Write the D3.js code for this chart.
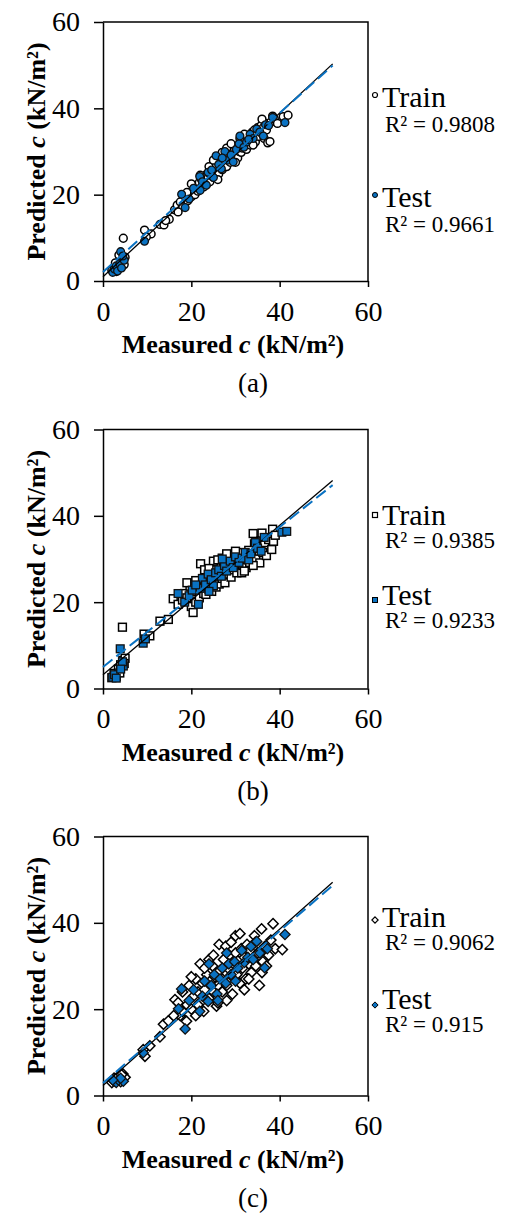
<!DOCTYPE html>
<html><head><meta charset="utf-8">
<script src="https://cdn.jsdelivr.net/npm/d3@7/dist/d3.min.js"></script>
<style>
html,body{margin:0;padding:0;background:#fff;}
svg text{font-family:"Liberation Serif","Times New Roman",serif;fill:#000;}
</style></head>
<body>
<svg id="fig" width="506" height="1214"></svg>
<script>
// ---------- data ----------
const xTicks = [0, 20, 40, 60];
const yTicks = [0, 20, 40, 60];
const panelLabels = ["(a)", "(b)", "(c)"];
const r2Train = ["0.9808", "0.9385", "0.9062"];
const r2Test = ["0.9661", "0.9233", "0.915"];
// trendlines: [intercept, slope]
const trendTrain = [[1.0, 0.948], [3.2, 0.865], [2.3, 0.906]];
const trendTest = [[2.1, 0.92], [5.0, 0.81], [2.9, 0.88]];
const trendRange = [0, 52];

const trainA = [[2.0,2.5],[2.5,3.0],[3.0,2.2],[3.2,3.5],[3.5,4.0],[4.0,3.2],[4.2,5.0],[4.5,4.5],[5.0,5.5],[4.8,3.8],[2.8,4.2],[4.6,9.9],[3.6,6.0],
[9.4,11.8],[10.9,10.9],[9.8,10.2],[12.9,13.1],[13.8,13.0],[15.0,14.3],[14.2,14.0],[16.2,16.5],[16.8,17.6],[17.5,18.3],[18.0,17.2],[18.6,19.5],[19.2,18.6],[19.8,20.4],[20.0,19.5],[20.5,21.2],[20.8,20.0],[21.2,22.0],[21.5,20.8],[21.8,22.8],[22.0,21.5],[22.3,23.5],[22.5,22.0],[22.8,21.8],[23.0,23.2],[23.2,24.5],[23.5,22.5],[23.8,23.8],[24.0,25.0],[24.2,23.0],[24.5,24.5],[24.8,26.0],[25.0,24.0],[25.2,25.5],[25.5,26.8],[25.8,25.0],[26.0,27.5],[26.2,24.8],[26.5,26.5],[26.8,27.8],[27.0,25.8],[27.2,28.5],[27.5,27.0],[27.8,29.0],[28.0,26.5],[28.2,28.0],[28.5,29.5],[28.8,27.5],[29.0,30.2],[29.2,28.8],[29.5,27.8],[29.8,30.5],[30.0,29.0],[30.3,31.2],[30.5,28.5],[30.8,30.0],[31.0,31.8],[31.3,29.8],[31.5,30.8],[31.8,32.5],[32.0,31.0],[32.3,33.2],[32.5,30.5],[32.8,32.0],[33.0,33.8],[33.3,31.5],[33.5,32.8],[33.8,34.5],[34.0,33.0],[34.3,35.0],[34.5,32.2],[34.8,34.0],[35.0,35.5],[35.3,33.5],[35.5,34.8],[35.8,36.0],[36.0,34.2],[36.3,35.5],[36.5,33.0],[36.8,36.5],[37.0,35.0],[37.3,32.0],[37.8,32.3],[38.0,36.8],[38.4,38.2],[38.8,37.5],[39.5,36.5],[40.8,38.1],[41.9,38.4],[24.0,26.5],[26.0,23.5],[28.0,30.8],[30.0,27.5],[32.0,34.0],[34.0,31.5],[36.0,37.5],[22.0,24.5],[20.0,22.5],[19.0,20.5],[17.0,16.0],[25.0,28.0],[27.0,29.8],[29.0,31.8],[31.0,33.0]];
const testA = [[2.2,2.0],[2.6,2.8],[3.0,3.5],[3.3,2.3],[3.8,4.0],[4.0,6.8],[4.2,3.0],[4.8,4.8],[4.5,5.8],[9.4,9.2],[17.8,20.1],[18.6,17.0],[19.5,19.0],[20.5,21.5],[21.9,24.2],[22.5,23.0],[23.4,22.2],[23.8,25.2],[24.6,25.7],[25.0,24.0],[25.6,29.0],[26.2,27.0],[26.8,26.0],[27.6,30.0],[28.3,28.0],[29.0,29.2],[29.5,27.6],[30.2,30.5],[30.8,31.8],[31.0,33.6],[31.9,31.0],[32.5,32.2],[33.3,34.0],[34.0,33.0],[34.8,35.2],[35.5,34.5],[36.3,33.6],[36.8,36.2],[37.5,36.0],[38.4,37.9],[41.2,36.7],[22.0,21.0],[27.0,28.5],[33.0,32.8]];

const trainB = [[2.0,2.5],[2.5,3.5],[3.0,2.8],[3.5,4.5],[4.0,5.5],[4.5,6.5],[5.0,7.0],[4.8,5.8],[3.8,3.6],[4.4,14.2],[9.3,12.6],[10.6,12.2],[12.9,15.6],[14.8,16.0],[15.9,20.8],[17.0,19.5],[18.0,20.5],[18.5,22.0],[19.0,21.0],[19.7,23.7],[20.0,19.0],[20.4,17.6],[20.8,22.5],[21.0,20.0],[21.5,23.5],[21.8,21.0],[22.1,28.9],[22.5,24.0],[22.8,22.0],[23.0,25.0],[23.3,21.8],[23.6,24.5],[24.0,23.0],[24.3,26.0],[24.6,22.5],[25.0,25.0],[25.3,27.5],[25.6,23.5],[26.0,26.5],[26.3,24.2],[26.6,28.0],[27.0,25.5],[27.3,27.8],[27.6,24.5],[28.0,29.0],[28.3,26.5],[28.6,28.2],[29.0,25.8],[29.3,29.5],[29.6,27.5],[30.0,30.0],[30.3,26.8],[30.6,29.0],[31.0,30.5],[31.4,26.8],[31.7,28.5],[32.0,30.2],[32.4,28.0],[32.8,30.8],[33.2,29.2],[33.6,31.0],[34.0,35.9],[34.3,33.5],[34.6,30.0],[35.0,32.5],[35.5,29.1],[35.8,34.2],[36.2,31.5],[36.6,33.8],[37.0,30.8],[37.5,34.5],[38.2,32.2],[38.6,34.1],[38.4,36.9],[39.0,35.5],[27.0,30.2],[25.0,29.5],[23.0,27.5],[29.0,31.0],[31.0,31.5],[33.0,32.0],[21.0,25.0],[19.0,24.5],[24.0,27.8],[26.0,29.8],[28.0,31.2],[30.0,31.8],[32.0,27.2],[34.0,28.5],[36.0,36.0]];
const testB = [[2.2,2.6],[2.6,3.2],[3.0,2.4],[3.9,9.2],[4.6,5.2],[4.4,6.2],[4.0,4.5],[9.1,10.5],[9.6,11.5],[17.0,22.0],[18.5,20.0],[19.5,21.5],[20.2,22.8],[21.6,19.5],[22.0,23.2],[22.5,25.5],[23.2,24.0],[23.8,26.5],[24.5,25.2],[25.0,23.8],[25.5,26.8],[26.2,27.5],[26.8,26.0],[27.5,28.5],[28.0,27.2],[28.8,29.5],[29.5,28.0],[30.0,30.5],[30.8,29.2],[31.5,30.2],[32.2,31.5],[33.0,29.8],[33.5,31.2],[34.5,33.8],[35.0,32.5],[35.8,31.8],[36.5,35.0],[40.5,36.2],[41.6,36.4],[21.0,24.0],[27.0,30.0],[24.0,22.5]];

const trainC = [[2.0,3.0],[2.5,4.0],[3.0,3.5],[3.5,4.5],[4.0,3.2],[4.5,5.0],[5.0,4.2],[4.2,4.8],[9.5,9.1],[9.1,10.6],[10.6,11.5],[12.9,13.6],[13.7,16.5],[14.8,17.3],[16.3,22.2],[17.0,21.5],[17.5,18.5],[18.0,24.0],[18.9,17.2],[19.0,21.0],[19.5,25.5],[20.0,20.0],[20.5,23.0],[21.0,18.5],[21.0,27.0],[21.5,24.0],[22.0,21.5],[22.5,26.0],[22.8,19.5],[23.0,24.5],[23.5,28.0],[24.0,22.5],[24.3,26.5],[24.8,30.0],[25.0,24.0],[25.3,27.5],[25.7,20.7],[26.0,25.5],[26.3,35.0],[26.5,29.0],[27.0,27.0],[27.3,31.5],[27.8,34.6],[28.0,25.5],[28.3,29.5],[28.6,32.5],[29.0,27.8],[29.3,23.5],[29.6,30.5],[30.0,33.0],[30.3,28.0],[30.6,31.2],[31.0,26.0],[31.3,34.0],[31.6,29.5],[32.0,32.0],[32.3,27.0],[32.6,35.0],[33.0,30.5],[33.3,33.5],[33.6,28.5],[34.0,31.5],[34.3,37.0],[34.6,30.0],[35.0,33.0],[35.4,25.5],[35.9,38.6],[36.2,31.0],[36.6,34.5],[37.0,30.0],[37.5,32.5],[38.0,36.0],[38.5,39.8],[39.0,34.0],[40.6,33.8],[22.0,30.5],[24.0,31.5],[26.0,21.5],[28.0,22.0],[30.0,37.0],[32.0,24.5],[20.0,27.5],[23.0,29.5],[25.0,32.5],[27.0,24.0],[29.0,35.5],[31.0,37.5],[33.0,27.0],[18.0,19.5],[16.0,18.5],[21.5,21.0],[34.5,35.5],[36.0,28.5]];
const testC = [[2.5,3.3],[3.0,3.0],[3.5,3.6],[4.6,3.3],[4.0,4.0],[2.2,3.6],[9.1,9.9],[17.1,20.1],[17.8,24.7],[18.6,15.4],[19.5,22.0],[20.5,24.5],[21.9,19.5],[22.5,23.0],[23.0,26.5],[23.8,21.8],[24.5,25.5],[25.2,28.0],[25.8,23.5],[26.5,27.0],[27.0,29.5],[27.8,26.0],[28.5,30.5],[29.0,28.0],[29.8,31.0],[30.5,29.5],[31.4,33.6],[32.0,30.8],[32.8,32.0],[33.5,34.5],[34.0,31.5],[34.8,35.7],[35.5,33.0],[36.6,29.6],[37.2,34.0],[41.2,37.3],[24.0,30.5],[28.0,33.0],[30.0,26.5],[26.0,22.0]];

const trainSets = [trainA, trainB, trainC];
const testSets = [testA, testB, testC];
const markerShapes = ["circle", "square", "diamond"];

// ---------- layout ----------
const BLUE = "#0a72c2";
const offsets = [0, 407.5, 814.5];
const legendY = [
  {m1: 95, t1: 107, r1: 132, m2: 195, t2: 207, r2: 232},
  {m1: 107.5, t1: 117.5, r1: 140.5, m2: 192.5, t2: 197.5, r2: 220.5},
  {m1: 105.5, t1: 112, r1: 135.5, m2: 190.5, t2: 194.5, r2: 217.5}
];
const svg = d3.select("#fig");
const x = d3.scaleLinear().domain([0, 60]).range([103, 368]);
const y = d3.scaleLinear().domain([0, 60]).range([281, 22]);

function marker(sel, shape, size) {
  if (shape === "circle") {
    sel.append("circle").attr("r", size);
  } else if (shape === "square") {
    sel.append("rect").attr("x", -size).attr("y", -size).attr("width", 2*size).attr("height", 2*size);
  } else {
    const s = size * 1.25;
    sel.append("path").attr("d", `M0,${-s}L${s},0L0,${s}L${-s},0Z`);
  }
}

const sizes = [3.9, 3.9, 4.1];

for (let p = 0; p < 3; p++) {
  const g = svg.append("g").attr("transform", `translate(0,${offsets[p]})`);
  const shape = markerShapes[p];

  // frame (top and right)
  g.append("path")
    .attr("d", `M${x(0)},${y(60)}H${x(60)}V${y(0)}`)
    .attr("fill", "none").attr("stroke", "#000").attr("stroke-width", 1.5);

  // axes
  const xa = g.append("g").attr("transform", `translate(0,${y(0)})`)
    .call(d3.axisBottom(x).tickValues(xTicks).tickSize(6).tickPadding(14).tickSizeOuter(0));
  const ya = g.append("g").attr("transform", `translate(${x(0)},0)`)
    .call(d3.axisLeft(y).tickValues(yTicks).tickSize(9).tickPadding(14).tickSizeOuter(0));
  [xa, ya].forEach(a => {
    a.select(".domain").attr("stroke", "#000").attr("stroke-width", 1.5);
    a.selectAll(".tick line").attr("stroke", "#000").attr("stroke-width", 1.5);
    a.selectAll(".tick text").attr("font-size", 28)
      .style("font-family", '"Liberation Serif","Times New Roman",serif').attr("fill", "#000");
  });

  // points
  const pts = g.append("g");
  trainSets[p].forEach(d => {
    const m = pts.append("g").attr("transform", `translate(${x(d[0])},${y(d[1])})`);
    marker(m, shape, sizes[p]);
    m.selectAll("*").attr("fill", "#fff").attr("stroke", "#000").attr("stroke-width", 1.5);
  });
  testSets[p].forEach(d => {
    const m = pts.append("g").attr("transform", `translate(${x(d[0])},${y(d[1])})`);
    marker(m, shape, sizes[p]);
    m.selectAll("*").attr("fill", BLUE).attr("stroke", "#111").attr("stroke-width", 1.3);
  });

  // trendlines
  const tr = trendTrain[p], te = trendTest[p];
  g.append("line")
    .attr("x1", x(trendRange[0])).attr("y1", y(tr[0] + tr[1]*trendRange[0]))
    .attr("x2", x(trendRange[1])).attr("y2", y(tr[0] + tr[1]*trendRange[1]))
    .attr("stroke", "#000").attr("stroke-width", 1.3);
  g.append("line")
    .attr("x1", x(trendRange[0])).attr("y1", y(te[0] + te[1]*trendRange[0]))
    .attr("x2", x(trendRange[1])).attr("y2", y(te[0] + te[1]*trendRange[1]))
    .attr("stroke", BLUE).attr("stroke-width", 2).attr("stroke-dasharray", "12,5");

  // axis titles
  const xt = g.append("text").attr("x", 233).attr("y", 353).attr("text-anchor", "middle")
    .attr("font-size", 26).attr("font-weight", "bold");
  xt.append("tspan").text("Measured ");
  xt.append("tspan").attr("font-style", "italic").text("c");
  xt.append("tspan").text(" (kN/m²)");

  const yt = g.append("text").attr("transform", `translate(45,${(y(0)+y(60))/2}) rotate(-90)`)
    .attr("text-anchor", "middle").attr("font-size", 26).attr("font-weight", "bold");
  yt.append("tspan").text("Predicted ");
  yt.append("tspan").attr("font-style", "italic").text("c");
  yt.append("tspan").text(" (kN/m²)");

  // caption
  g.append("text").attr("x", 253).attr("y", 392).attr("text-anchor", "middle")
    .attr("font-size", 27).text(panelLabels[p]);

  // legend
  const L = legendY[p];
  const lm1 = g.append("g").attr("transform", `translate(375,${L.m1})`);
  marker(lm1, shape, 2.5);
  lm1.selectAll("*").attr("fill", "#fff").attr("stroke", "#000").attr("stroke-width", 1.2);
  const lm2 = g.append("g").attr("transform", `translate(375,${L.m2})`);
  marker(lm2, shape, 2.5);
  lm2.selectAll("*").attr("fill", BLUE).attr("stroke", "#000").attr("stroke-width", 1);
  g.append("text").attr("x", 382).attr("y", L.t1).attr("font-size", 30).text("Train");
  g.append("text").attr("x", 385).attr("y", L.r1).attr("font-size", 23).text("R² = " + r2Train[p]);
  g.append("text").attr("x", 382).attr("y", L.t2).attr("font-size", 30).text("Test");
  g.append("text").attr("x", 385).attr("y", L.r2).attr("font-size", 23).text("R² = " + r2Test[p]);
}
</script>
</body></html>
